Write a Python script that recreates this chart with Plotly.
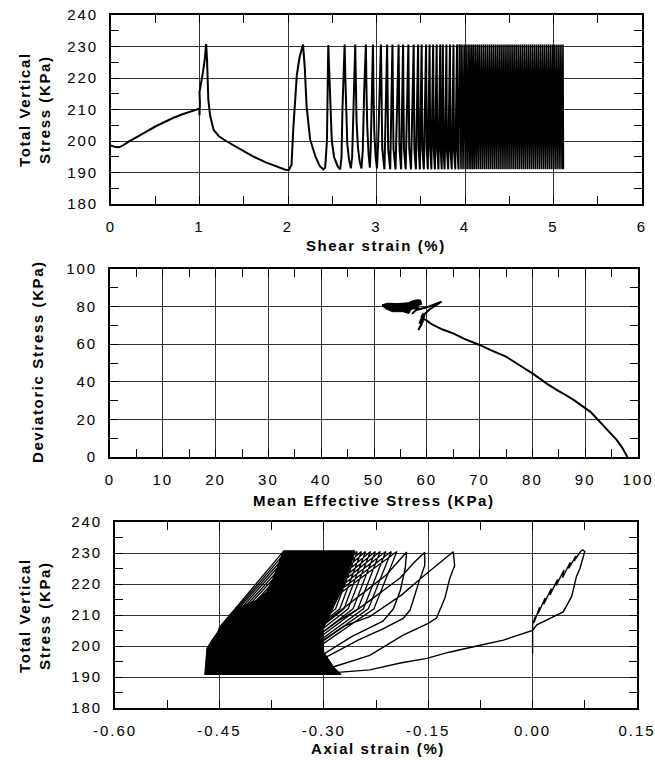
import plotly.graph_objects as go

# ---------------- Panel 1: total vertical stress vs shear strain ----------------
early_shear = [0.00, 0.04, 0.09, 0.13, 0.20, 0.30, 0.40, 0.50, 0.60, 0.70,
               0.80, 0.90, 0.97, 1.00, 1.00, 1.005, 1.00, 1.02, 1.04, 1.06,
               1.075, 1.085, 1.09, 1.10, 1.12, 1.16, 1.22, 1.30, 1.45, 1.60,
               1.75, 1.90, 1.97, 2.01, 2.04, 2.06, 2.08, 2.10, 2.13, 2.17,
               2.19, 2.21, 2.25, 2.31, 2.36, 2.40, 2.42, 2.44, 2.455, 2.465,
               2.475, 2.495, 2.52, 2.56, 2.59, 2.605, 2.615, 2.628, 2.64, 2.648,
               2.656, 2.67, 2.69, 2.71, 2.725, 2.74, 2.76, 2.766, 2.775, 2.79,
               2.81, 2.83, 2.845, 2.86, 2.88, 2.886, 2.895, 2.91, 2.925, 2.935,
               2.95, 2.96, 2.966, 2.975, 2.99, 3.005, 3.02, 3.035, 3.05]
early_stress = [198.6, 198.2, 198.0, 198.5, 199.8, 201.5, 203.0, 204.6, 206.0, 207.3,
                208.4, 209.4, 210.0, 210.3, 208.2, 212.0, 215.5, 218.5, 222.0, 226.0,
                230.8, 226.0, 219.0, 213.0, 208.0, 203.5, 201.5, 200.0, 197.6, 195.2,
                193.2, 191.6, 190.9, 190.8, 192.5, 204.0, 214.0, 221.0, 226.5, 230.6,
                223.0, 211.0, 200.5, 195.0, 192.0, 191.0, 191.5, 200.0, 230.5, 222.0,
                210.0, 200.0, 195.0, 192.0, 191.0, 195.0, 210.0, 222.0, 230.6, 220.0,
                208.0, 199.0, 194.0, 191.3, 195.0, 212.0, 230.6, 220.0, 206.0, 198.0,
                193.5, 191.3, 197.0, 215.0, 230.6, 218.0, 205.0, 196.0, 191.5, 198.0,
                218.0, 230.6, 216.0, 203.0, 195.0, 191.3, 200.0, 220.0, 230.6]

mid_peak = [3.05, 3.12, 3.18, 3.25, 3.30, 3.36, 3.42, 3.47, 3.51, 3.56,
            3.60, 3.64, 3.68, 3.72, 3.75, 3.79, 3.83, 3.87, 3.91, 3.94]
mid_knee = [3.065, 3.132, 3.192, 3.26, 3.31, 3.37, 3.428, 3.477, 3.518, 3.567,
            3.607, 3.647, 3.686, 3.725, 3.756, 3.795, 3.835, 3.875, 3.915]
mid_valley = [3.09, 3.155, 3.215, 3.278, 3.33, 3.39, 3.445, 3.49, 3.535, 3.58,
              3.62, 3.66, 3.70, 3.737, 3.77, 3.81, 3.85, 3.89, 3.927]

dense_turn = [3.955, 3.965, 3.978, 3.990, 4.002, 4.012, 4.024, 4.035, 4.046, 4.056,
              4.067, 4.077, 4.088, 4.098, 4.109, 4.120, 4.131, 4.142, 4.153, 4.164,
              4.176, 4.187, 4.199, 4.210, 4.222, 4.233, 4.245, 4.256, 4.268, 4.279,
              4.291, 4.302, 4.314, 4.325, 4.337, 4.348, 4.360, 4.371, 4.383, 4.394,
              4.406, 4.417, 4.429, 4.440, 4.452, 4.463, 4.475, 4.486, 4.498, 4.509,
              4.521, 4.532, 4.544, 4.555, 4.567, 4.578, 4.590, 4.601, 4.613, 4.624,
              4.636, 4.647, 4.659, 4.670, 4.682, 4.693, 4.705, 4.716, 4.728, 4.739,
              4.751, 4.762, 4.774, 4.785, 4.797, 4.808, 4.820, 4.831, 4.843, 4.854,
              4.866, 4.877, 4.889, 4.900, 4.912, 4.923, 4.935, 4.946, 4.958, 4.969,
              4.981, 4.992, 5.004, 5.015, 5.027, 5.038, 5.050, 5.061, 5.073, 5.084,
              5.096, 5.107, 5.112]

cycle_max_stress = 230.6
cycle_min_stress = 191.0
cycle_knee_stress = 197.5

# ---------------- Panel 2: deviatoric stress vs mean effective stress ----------------
mean_eff = [98.0, 97.5, 97.0, 96.0, 95.0, 94.0, 92.0, 91.0, 90.0, 88.0,
            86.0, 85.0, 83.0, 80.0, 78.0, 75.0, 72.0, 70.0, 67.0, 65.0,
            63.0, 61.0, 60.0, 59.2, 59.0, 59.4, 58.6, 59.3, 58.4, 59.0,
            59.6, 60.5, 62.8, 60.2, 58.0, 57.2, 58.5, 56.5, 54.0, 52.2,
            51.6, 53.0, 56.0, 57.8, 58.7, 58.9, 57.0]
deviatoric = [0.0, 2.5, 5.0, 9.0, 12.0, 15.0, 21.4, 24.0, 26.0, 30.0,
              33.5, 35.0, 38.5, 44.5, 48.0, 53.4, 57.0, 59.6, 63.0, 65.8,
              67.8, 70.5, 72.5, 73.8, 74.6, 76.5, 71.0, 72.5, 67.5, 70.5,
              76.0, 78.5, 82.6, 79.8, 78.2, 76.2, 79.5, 78.6, 78.4, 79.5,
              80.5, 81.2, 81.0, 83.0, 83.2, 81.5, 79.5]
blob_p = [51.5, 52.5, 54.5, 56.5, 57.5, 58.5, 59.0, 58.4, 57.5, 57.0, 56.6, 55.5, 53.5, 52.2]
blob_q = [80.9, 81.8, 81.6, 82.0, 83.3, 83.6, 82.5, 81.5, 80.3, 78.3, 76.3, 77.3, 77.3, 78.8]

# ---------------- Panel 3: total vertical stress vs axial strain ----------------
early_axial = [0.000, 0.000, 0.000, 0.004, 0.002, 0.010, 0.008, 0.018, 0.016, 0.027,
               0.025, 0.036, 0.034, 0.045, 0.043, 0.054, 0.052, 0.062, 0.060, 0.069,
               0.072, 0.075, 0.073, 0.068, 0.063, 0.056, 0.044, 0.030, 0.015, 0.006,
               0.000, -0.042, -0.080, -0.120, -0.152, -0.190, -0.234, -0.280, -0.330,
               -0.320, -0.300, -0.270, -0.234, -0.188, -0.157, -0.135, -0.114, -0.112, -0.119,
               -0.126, -0.138, -0.150, -0.186, -0.234, -0.290, -0.340,
               -0.330, -0.310, -0.280, -0.250, -0.220, -0.190, -0.170, -0.155, -0.155, -0.164,
               -0.176, -0.186, -0.215, -0.250, -0.300, -0.350,
               -0.340, -0.320, -0.290, -0.250, -0.210, -0.181, -0.183, -0.190, -0.200, -0.215,
               -0.260, -0.310, -0.355]
early_axial_stress = [197.6, 203.0, 207.0, 209.5, 207.5, 212.5, 210.5, 215.5, 213.5, 218.5,
                      216.5, 221.5, 219.5, 224.5, 222.0, 227.0, 225.0, 229.0, 227.5, 230.5,
                      231.0, 230.5, 228.8, 225.0, 222.4, 215.9, 211.0, 209.5, 208.0, 206.8,
                      205.0, 201.9, 200.0, 198.0, 196.0, 194.5, 192.3, 191.5, 191.0,
                      196.0, 202.0, 206.5, 209.5, 216.5, 222.5, 226.5, 230.4, 226.0, 221.8,
                      215.5, 209.0, 207.3, 203.5, 197.0, 193.0, 191.0,
                      197.0, 203.0, 208.0, 212.0, 217.0, 222.0, 227.0, 230.2, 226.0, 220.2,
                      211.6, 208.9, 205.5, 202.0, 196.0, 191.0,
                      198.0, 204.0, 209.0, 216.0, 223.0, 230.3, 225.0, 218.0, 212.0, 208.0,
                      203.0, 196.0, 191.0]

loop_bottom = [-0.360, -0.364, -0.368, -0.372, -0.376, -0.380, -0.384, -0.388, -0.392, -0.396,
               -0.400, -0.404, -0.408, -0.412, -0.416, -0.420, -0.424, -0.428, -0.432, -0.436,
               -0.440, -0.444, -0.448, -0.452, -0.456, -0.459, -0.462, -0.465, -0.467, -0.469,
               -0.471]
loop_load_knee = [-0.343, -0.347, -0.351, -0.355, -0.358, -0.362, -0.366, -0.370, -0.374, -0.378,
                  -0.382, -0.386, -0.389, -0.393, -0.397, -0.401, -0.405, -0.409, -0.413, -0.417,
                  -0.421, -0.425, -0.429, -0.433, -0.437, -0.440, -0.443, -0.446, -0.448, -0.450]
loop_top = [-0.195, -0.203, -0.211, -0.219, -0.226, -0.233, -0.240, -0.246, -0.252, -0.258,
            -0.264, -0.270, -0.276, -0.281, -0.286, -0.291, -0.296, -0.301, -0.306, -0.311,
            -0.316, -0.321, -0.326, -0.331, -0.336, -0.341, -0.346, -0.350, -0.354, -0.358]
loop_unload_knee = [-0.228, -0.236, -0.243, -0.251, -0.258, -0.265, -0.271, -0.277, -0.283, -0.289,
                    -0.295, -0.301, -0.306, -0.311, -0.316, -0.321, -0.326, -0.331, -0.336, -0.341,
                    -0.346, -0.351, -0.356, -0.361, -0.366, -0.371, -0.376, -0.380, -0.384, -0.388]
loop_min_stress = 191.0
loop_load_knee_stress = 206.0
loop_max_stress = 230.5
loop_unload_knee_stress = 212.0

# outline of the solid, overlapping-loop region
solid_axial = [-0.471, -0.470, -0.468, -0.459, -0.449, -0.435, -0.420, -0.396, -0.382, -0.373,
               -0.358, -0.255, -0.270, -0.292, -0.302, -0.300, -0.285, -0.275, -0.471]
solid_stress = [190.8, 195.0, 199.3, 202.5, 205.7, 210.0, 212.7, 214.8, 217.5, 221.8,
                230.7, 230.7, 220.0, 210.0, 205.0, 198.0, 193.0, 190.8, 190.8]

# ---------------- tick values / labels ----------------
shear_ticks = [0, 1, 2, 3, 4, 5, 6]
stress_ticks = [180, 190, 200, 210, 220, 230, 240]
p_ticks = [0, 10, 20, 30, 40, 50, 60, 70, 80, 90, 100]
q_ticks = [0, 20, 40, 60, 80, 100]
axial_ticks = [-0.60, -0.45, -0.30, -0.15, 0.00, 0.15]
axial_tick_labels = ["-0.60", "-0.45", "-0.30", "-0.15", "0.00", "0.15"]

# ---------------- build paths ----------------
p1_x = list(early_shear)
p1_y = list(early_stress)
for i in range(len(mid_knee)):
    p1_x += [mid_knee[i], mid_valley[i], mid_peak[i + 1]]
    p1_y += [cycle_knee_stress, cycle_min_stress, cycle_max_stress]
dense_x = [mid_peak[-1]] + dense_turn
dense_y = [cycle_max_stress] + [cycle_min_stress if j % 2 == 0 else cycle_max_stress
                                for j in range(len(dense_turn))]

p3_x = [early_axial[-1]]
p3_y = [early_axial_stress[-1]]
for i in range(len(loop_top)):
    p3_x += [loop_bottom[i], loop_load_knee[i], loop_top[i], loop_unload_knee[i]]
    p3_y += [loop_min_stress, loop_load_knee_stress, loop_max_stress, loop_unload_knee_stress]
p3_x.append(loop_bottom[-1])
p3_y.append(loop_min_stress)

FONT = "Liberation Sans, Arial, sans-serif"


def spaced(t, px=2):
    return '<span style="letter-spacing:%spx">%s</span>' % (px, t)


fig = go.Figure()
fig.add_trace(go.Scatter(x=p1_x, y=p1_y, mode="lines", line=dict(color="black", width=2),
                         xaxis="x", yaxis="y"))
fig.add_trace(go.Scatter(x=dense_x, y=dense_y, mode="lines", line=dict(color="black", width=1.6),
                         xaxis="x", yaxis="y"))
fig.add_trace(go.Scatter(x=mean_eff, y=deviatoric, mode="lines", line=dict(color="black", width=2),
                         xaxis="x2", yaxis="y2"))
fig.add_trace(go.Scatter(x=blob_p, y=blob_q, mode="lines", fill="toself", fillcolor="black",
                         line=dict(color="black", width=1), xaxis="x2", yaxis="y2"))
fig.add_trace(go.Scatter(x=solid_axial, y=solid_stress, mode="lines", fill="toself",
                         fillcolor="black", line=dict(color="black", width=1),
                         xaxis="x3", yaxis="y3"))
fig.add_trace(go.Scatter(x=early_axial, y=early_axial_stress, mode="lines",
                         line=dict(color="black", width=1.4), xaxis="x3", yaxis="y3"))
fig.add_trace(go.Scatter(x=p3_x, y=p3_y, mode="lines", line=dict(color="black", width=1.3),
                         xaxis="x3", yaxis="y3"))


def axis(domain, rng, vals, texts, minor_dtick, anchor, standoff):
    return dict(domain=domain, range=rng, anchor=anchor, automargin=False,
                tickmode="array", tickvals=vals, ticktext=[spaced(t) for t in texts],
                showgrid=True, gridcolor="#333333", gridwidth=1, zeroline=False,
                showline=True, linecolor="black", linewidth=1.6, mirror="allticks",
                ticks="inside", ticklen=8, tickwidth=1, tickcolor="black",
                minor=dict(dtick=minor_dtick, tick0=rng[0], ticks="inside", ticklen=8,
                           tickwidth=1, tickcolor="black", showgrid=False),
                tickfont=dict(family=FONT, size=15, color="black"),
                ticklabeloverflow="allow", ticklabelstandoff=standoff)


W, H = 655, 760


def fx(px):
    return px / W


def fy(py):
    return 1 - py / H


fig.update_layout(
    width=W, height=H, margin=dict(l=0, r=0, t=0, b=0, autoexpand=False),
    paper_bgcolor="white", plot_bgcolor="white", showlegend=False,
    xaxis=axis([fx(111), fx(642)], [0, 6], shear_ticks, [str(v) for v in shear_ticks], 0.5, "y", 8),
    yaxis=axis([fy(204), fy(15)], [180, 240], stress_ticks, [str(v) for v in stress_ticks], 5, "x", 8),
    xaxis2=axis([fx(110), fx(638)], [0, 100], p_ticks, [str(v) for v in p_ticks], 5, "y2", 8),
    yaxis2=axis([fy(457), fy(269)], [0, 100], q_ticks, [str(v) for v in q_ticks], 10, "x2", 8),
    xaxis3=axis([fx(115), fx(637)], [-0.6, 0.15], axial_ticks, axial_tick_labels, 0.075, "y3", 8),
    yaxis3=axis([fy(708), fy(522)], [180, 240], stress_ticks, [str(v) for v in stress_ticks], 5, "x3", 8),
)

title_font = dict(family=FONT, size=15, color="black", weight="bold")
annos = [
    (spaced("Shear strain (%)", 1.6), fx(376.5), fy(245), 0),
    (spaced("Mean Effective Stress (KPa)", 1.6), fx(374), fy(500), 0),
    (spaced("Axial strain (%)", 1.6), fx(378), fy(748), 0),
    (spaced("Total Vertical<br>Stress (KPa)", 1.6), fx(34), fy(110), -90),
    (spaced("Deviatoric Stress (KPa)", 1.6), fx(37), fy(362), -90),
    (spaced("Total Vertical<br>Stress (KPa)", 1.6), fx(34), fy(616), -90),
]
for text, x, y, ang in annos:
    fig.add_annotation(text=text, x=x, y=y, xref="paper", yref="paper", showarrow=False,
                       xanchor="center", yanchor="middle", textangle=ang, font=title_font)

# remove the browser's default 8px page margin so the figure fills the window exactly
fig.write_html("out.html", config={"displayModeBar": False},
               post_script="document.body.style.margin='0';document.body.style.overflow='hidden';")
